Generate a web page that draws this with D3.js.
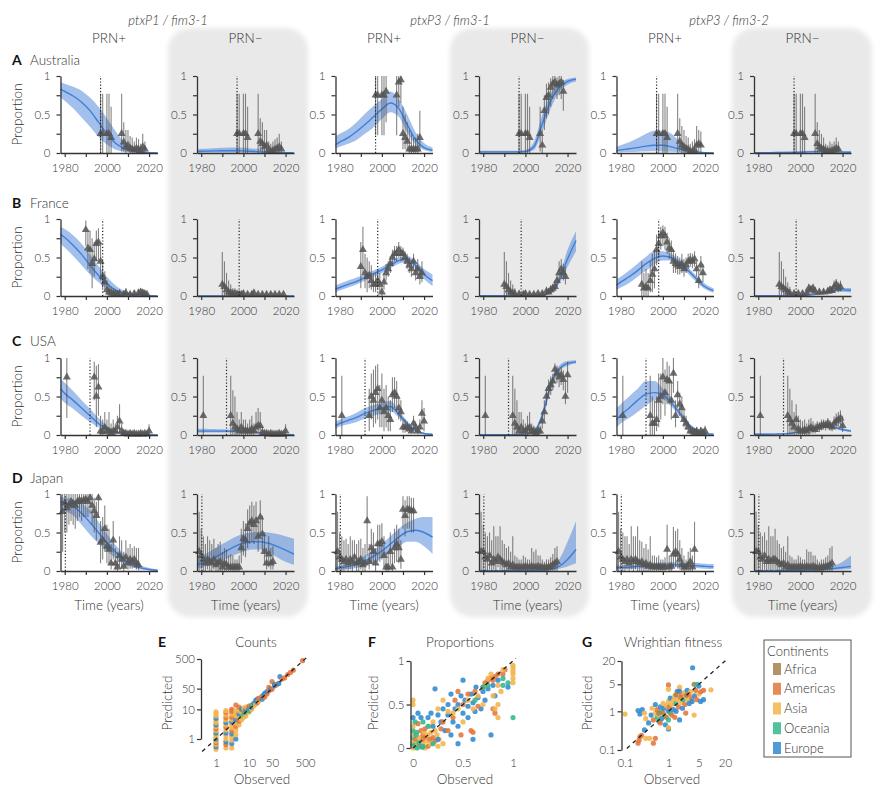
<!DOCTYPE html>
<html><head><meta charset="utf-8">
<script src="https://cdn.jsdelivr.net/npm/d3@7"></script>
<style>
body{margin:0;background:#fff;}
svg{display:block;font-family:"Lato","Open Sans",sans-serif;font-weight:300;}
</style></head><body>
<svg id="chart" width="883" height="790"></svg>
<script>
// ---------------- DATA ----------------
const countries = ["Australia","France","USA","Japan"];
const rowLetters = ["A","B","C","D"];
const vaccineYears = [1997, 1998, 1992, 1980.3];
const groupHeaders = ["ptxP1 / fim3-1","ptxP3 / fim3-1","ptxP3 / fim3-2"];
const prnLabels = ["PRN+","PRN\u2212","PRN+","PRN\u2212","PRN+","PRN\u2212"];
const fitYears = [1978,1980,1984,1988,1992,1996,2000,2004,2008,2012,2016,2020,2024];
const xTickYears = [1980,1990,2000,2010,2020];
const xLabelYears = [1980,2000,2020];
const yTicks = [0,0.25,0.5,0.75,1];
const yLabelTicks = [0,0.5,1];

const ausMean = [
 [0.83,0.80,0.74,0.66,0.55,0.40,0.25,0.13,0.06,0.025,0.01,0.004,0.002],
 [0.02,0.022,0.025,0.028,0.03,0.03,0.028,0.022,0.015,0.009,0.005,0.003,0.002],
 [0.11,0.14,0.20,0.28,0.37,0.47,0.57,0.65,0.58,0.37,0.17,0.07,0.035],
 [0.015,0.015,0.015,0.015,0.015,0.015,0.02,0.08,0.38,0.68,0.85,0.93,0.96],
 [0.03,0.04,0.055,0.07,0.09,0.10,0.10,0.08,0.05,0.025,0.01,0.004,0.002],
 [0.005,0.005,0.005,0.006,0.007,0.008,0.01,0.014,0.018,0.02,0.017,0.012,0.01]];
const ausLo = [
 [0.72,0.68,0.58,0.46,0.34,0.21,0.11,0.045,0.017,0.006,0.002,0.001,0],
 [0.003,0.004,0.005,0.006,0.007,0.007,0.006,0.004,0.002,0.001,0,0,0],
 [0.06,0.08,0.12,0.17,0.25,0.33,0.44,0.53,0.47,0.27,0.11,0.04,0.015],
 [0.005,0.005,0.005,0.005,0.005,0.005,0.008,0.04,0.28,0.58,0.79,0.89,0.93],
 [0.008,0.01,0.013,0.017,0.02,0.022,0.02,0.015,0.008,0.003,0.001,0,0],
 [0.001,0.001,0.001,0.001,0.002,0.002,0.003,0.005,0.007,0.008,0.006,0.004,0.003]];
const ausHi = [
 [0.92,0.90,0.86,0.81,0.72,0.60,0.45,0.29,0.15,0.07,0.03,0.012,0.006],
 [0.05,0.055,0.06,0.065,0.068,0.07,0.068,0.06,0.048,0.035,0.022,0.013,0.008],
 [0.22,0.25,0.31,0.40,0.51,0.61,0.70,0.80,0.70,0.50,0.27,0.13,0.07],
 [0.03,0.03,0.03,0.03,0.03,0.03,0.04,0.14,0.5,0.77,0.9,0.96,0.98],
 [0.08,0.10,0.14,0.19,0.25,0.29,0.29,0.25,0.15,0.07,0.03,0.012,0.006],
 [0.012,0.012,0.013,0.014,0.016,0.018,0.022,0.028,0.034,0.036,0.032,0.026,0.022]];
const ausObs = [
 [[1997,0.25,0,0.77],[1998,0.25,0,0.77],[2000,0.25,0,0.77],[2001,0.25,0,0.77],[2002,0.2,0,0.6],[2007,0.25,0.02,0.77],[2008,0.14,0.02,0.4],[2009,0.08,0,0.3],[2010,0.1,0.02,0.3],[2011,0.06,0,0.22],[2012,0.05,0,0.2],[2013,0.04,0,0.15],[2014,0.06,0,0.2],[2015,0.05,0,0.18],[2016,0.03,0,0.12],[2017,0.08,0,0.25],[2018,0.05,0,0.15]],
 [[1997,0.25,0,0.77],[1998,0.25,0,0.77],[2000,0.25,0,0.77],[2001,0.25,0,0.77],[2002,0.2,0,0.6],[2007,0.25,0,0.77],[2008,0.15,0.02,0.45],[2009,0.12,0,0.4],[2010,0.08,0,0.3],[2011,0.1,0,0.3],[2012,0.04,0,0.15],[2013,0.02,0,0.12],[2014,0.03,0,0.15],[2015,0.05,0,0.18],[2016,0.06,0,0.2],[2017,0.08,0,0.25],[2018,0.05,0,0.15]],
 [[1997,0.75,0.23,1],[1998,0.75,0.23,1],[2000,0.75,0.23,1],[2001,0.75,0.23,1],[2002,0.8,0.4,1],[2007,0.75,0.23,1],[2008,0.92,0.6,1],[2009,0.95,0.65,1],[2010,0.25,0.05,0.6],[2011,0.2,0.05,0.5],[2012,0.15,0.03,0.4],[2013,0.05,0,0.3],[2014,0.05,0,0.25],[2015,0.05,0,0.2],[2016,0.05,0,0.2],[2017,0.05,0,0.25],[2018,0.2,0.02,0.55]],
 [[1997,0.25,0,0.77],[1998,0.25,0,0.77],[2000,0.25,0,0.77],[2001,0.25,0,0.77],[2002,0.2,0,0.6],[2007,0.25,0.02,0.6],[2008,0.1,0,0.3],[2009,0.55,0.3,0.75],[2010,0.72,0.45,0.9],[2011,0.75,0.5,0.92],[2012,0.85,0.6,0.97],[2013,0.9,0.7,1],[2014,0.92,0.75,1],[2015,0.88,0.7,0.98],[2016,0.9,0.75,1],[2017,0.92,0.7,1],[2018,0.8,0.55,0.95]],
 [[1997,0.25,0,0.77],[1998,0.25,0,0.77],[2000,0.25,0,0.77],[2001,0.25,0,0.77],[2002,0.2,0,0.6],[2007,0.25,0,0.77],[2008,0.15,0.02,0.45],[2009,0.1,0,0.35],[2010,0.08,0,0.3],[2011,0.06,0,0.22],[2012,0.05,0,0.2],[2013,0.02,0,0.12],[2014,0.02,0,0.15],[2015,0.04,0,0.18],[2016,0.1,0,0.35],[2017,0.12,0.02,0.3],[2018,0.1,0,0.28]],
 [[1997,0.25,0,0.77],[1998,0.25,0,0.77],[2000,0.25,0,0.77],[2001,0.25,0,0.77],[2002,0.2,0,0.6],[2007,0.25,0,0.77],[2008,0.12,0,0.4],[2009,0.08,0,0.3],[2010,0.06,0,0.25],[2011,0.05,0,0.2],[2012,0.03,0,0.12],[2013,0.02,0,0.1],[2014,0.02,0,0.15],[2015,0.03,0,0.12],[2016,0.04,0,0.15],[2017,0.06,0,0.2],[2018,0.05,0,0.15]]];

const fraMean = [
 [0.80,0.76,0.66,0.54,0.40,0.27,0.16,0.08,0.04,0.02,0.008,0.003,0.001],
 [0.002,0.002,0.002,0.002,0.002,0.002,0.002,0.002,0.002,0.002,0.002,0.002,0.002],
 [0.09,0.11,0.15,0.19,0.24,0.29,0.34,0.40,0.46,0.48,0.40,0.28,0.20],
 [0.003,0.003,0.003,0.003,0.003,0.003,0.003,0.004,0.01,0.05,0.2,0.48,0.72],
 [0.14,0.18,0.25,0.33,0.42,0.49,0.52,0.50,0.43,0.33,0.22,0.12,0.07],
 [0.004,0.004,0.004,0.004,0.005,0.006,0.008,0.013,0.025,0.05,0.07,0.08,0.075]];
const fraLo = [
 [0.68,0.63,0.52,0.40,0.28,0.18,0.10,0.05,0.02,0.008,0.003,0.001,0],
 [0,0,0,0,0,0,0,0,0,0,0,0,0],
 [0.05,0.07,0.11,0.15,0.20,0.25,0.30,0.36,0.42,0.44,0.35,0.22,0.13],
 [0.001,0.001,0.001,0.001,0.001,0.001,0.001,0.002,0.006,0.035,0.16,0.38,0.58],
 [0.08,0.11,0.17,0.25,0.33,0.41,0.46,0.46,0.39,0.29,0.18,0.09,0.04],
 [0.001,0.001,0.001,0.001,0.002,0.003,0.004,0.008,0.017,0.036,0.05,0.055,0.045]];
const fraHi = [
 [0.90,0.87,0.79,0.68,0.54,0.39,0.25,0.14,0.07,0.035,0.015,0.006,0.003],
 [0.006,0.006,0.006,0.006,0.006,0.006,0.006,0.006,0.006,0.006,0.006,0.006,0.006],
 [0.14,0.16,0.20,0.24,0.28,0.33,0.38,0.44,0.50,0.52,0.45,0.35,0.28],
 [0.008,0.008,0.008,0.008,0.008,0.008,0.008,0.009,0.018,0.07,0.26,0.6,0.84],
 [0.22,0.25,0.33,0.42,0.51,0.58,0.58,0.55,0.47,0.37,0.26,0.16,0.10],
 [0.01,0.01,0.01,0.01,0.011,0.012,0.014,0.02,0.036,0.066,0.092,0.105,0.105]];
const fraObs = [
 [[1990,0.86,0.65,0.98],[1991,0.62,0.35,0.85],[1992,0.6,0.3,0.85],[1993,0.42,0.1,0.75],[1994,0.48,0.25,0.7],[1995,0.68,0.45,0.85],[1996,0.7,0.45,0.88],[1997,0.45,0.2,0.7],[1998,0.25,0.1,0.45],[1999,0.18,0.08,0.32],[2000,0.08,0.02,0.2],[2001,0.05,0,0.15],[2002,0.04,0,0.12],[2003,0.03,0,0.1],[2004,0.03,0,0.08],[2005,0.02,0,0.07],[2006,0.03,0,0.08],[2008,0.02,0,0.06],[2009,0.04,0,0.1],[2011,0.02,0,0.06],[2013,0.03,0,0.07],[2015,0.04,0.01,0.08],[2016,0.05,0.01,0.1],[2017,0.04,0.01,0.09],[2018,0.03,0,0.07],[2019,0.02,0,0.05]],
 [[1990,0.15,0,0.57],[1991,0.12,0,0.45],[1992,0.08,0,0.3],[1993,0.05,0,0.2],[1994,0.04,0,0.15],[1995,0.03,0,0.1],[1996,0.03,0,0.1],[1997,0.02,0,0.08],[1998,0.02,0,0.06],[1999,0.02,0,0.06],[2000,0.03,0,0.07],[2002,0.02,0,0.05],[2004,0.02,0,0.05],[2005,0.04,0,0.08],[2007,0.02,0,0.05],[2009,0.02,0,0.05],[2011,0.02,0,0.05],[2013,0.02,0,0.05],[2015,0.02,0,0.05],[2017,0.02,0,0.05],[2019,0.02,0,0.05]],
 [[1990,0.38,0.1,0.7],[1991,0.6,0.3,0.9],[1992,0.3,0.1,0.55],[1993,0.25,0.05,0.5],[1994,0.27,0.1,0.45],[1995,0.2,0.08,0.4],[1996,0.15,0.05,0.3],[1997,0.15,0.05,0.3],[1998,0.2,0.08,0.35],[1999,0.15,0.05,0.3],[2000,0.05,0,0.15],[2001,0.18,0.08,0.3],[2002,0.3,0.2,0.42],[2003,0.35,0.25,0.45],[2004,0.42,0.3,0.52],[2005,0.5,0.4,0.6],[2006,0.55,0.45,0.65],[2007,0.55,0.45,0.65],[2008,0.6,0.5,0.7],[2009,0.55,0.45,0.65],[2010,0.55,0.45,0.63],[2011,0.5,0.42,0.58],[2012,0.45,0.35,0.55],[2013,0.4,0.3,0.5],[2014,0.35,0.25,0.45],[2015,0.45,0.35,0.55],[2016,0.3,0.2,0.4],[2017,0.35,0.22,0.48],[2018,0.25,0.15,0.38],[2019,0.3,0.18,0.45]],
 [[1990,0.15,0,0.57],[1991,0.12,0,0.45],[1992,0.08,0,0.3],[1993,0.05,0,0.2],[1994,0.04,0,0.15],[1995,0.03,0,0.1],[1997,0.02,0,0.08],[1999,0.02,0,0.06],[2000,0.03,0,0.07],[2002,0.02,0,0.05],[2004,0.02,0,0.05],[2006,0.03,0,0.06],[2008,0.03,0,0.07],[2010,0.06,0.02,0.12],[2011,0.05,0.02,0.1],[2012,0.08,0.03,0.14],[2013,0.1,0.05,0.16],[2014,0.12,0.06,0.2],[2015,0.2,0.12,0.3],[2016,0.3,0.18,0.45],[2017,0.35,0.22,0.48],[2018,0.3,0.2,0.42],[2019,0.25,0.15,0.38]],
 [[1990,0.15,0,0.45],[1991,0.1,0,0.3],[1992,0.12,0,0.35],[1993,0.1,0,0.3],[1994,0.2,0.05,0.45],[1995,0.28,0.05,0.55],[1996,0.35,0.1,0.6],[1997,0.6,0.4,0.8],[1998,0.68,0.5,0.85],[1999,0.78,0.6,0.9],[2000,0.82,0.65,0.92],[2001,0.78,0.6,0.9],[2002,0.7,0.55,0.82],[2003,0.62,0.48,0.75],[2004,0.6,0.45,0.72],[2005,0.45,0.3,0.6],[2006,0.42,0.3,0.55],[2007,0.4,0.28,0.52],[2008,0.38,0.28,0.5],[2009,0.42,0.3,0.55],[2010,0.35,0.25,0.48],[2011,0.4,0.3,0.5],[2012,0.45,0.35,0.55],[2013,0.47,0.38,0.56],[2014,0.45,0.36,0.55],[2015,0.48,0.38,0.58],[2016,0.35,0.25,0.45],[2017,0.2,0.1,0.32],[2018,0.4,0.28,0.52],[2019,0.3,0.18,0.42]],
 [[1990,0.15,0,0.57],[1991,0.12,0,0.45],[1992,0.1,0,0.35],[1993,0.08,0,0.25],[1994,0.05,0,0.18],[1995,0.04,0,0.12],[1997,0.03,0,0.08],[1999,0.03,0,0.07],[2001,0.03,0,0.07],[2003,0.04,0,0.08],[2004,0.1,0.04,0.16],[2005,0.08,0.03,0.14],[2006,0.1,0.04,0.16],[2007,0.06,0.02,0.12],[2009,0.05,0.02,0.1],[2011,0.05,0.02,0.1],[2013,0.06,0.02,0.11],[2014,0.08,0.03,0.13],[2015,0.07,0.03,0.12],[2016,0.12,0.06,0.2],[2017,0.15,0.08,0.22],[2018,0.1,0.05,0.18],[2019,0.12,0.06,0.2]]];

const usaMean = [
 [0.60,0.54,0.45,0.35,0.25,0.15,0.08,0.04,0.02,0.008,0.003,0.001,0.0005],
 [0.05,0.05,0.05,0.05,0.05,0.048,0.045,0.04,0.03,0.018,0.01,0.005,0.003],
 [0.12,0.15,0.19,0.23,0.28,0.32,0.35,0.37,0.27,0.15,0.06,0.02,0.01],
 [0.005,0.005,0.005,0.005,0.005,0.005,0.008,0.04,0.25,0.65,0.86,0.93,0.95],
 [0.20,0.26,0.35,0.45,0.53,0.55,0.52,0.42,0.28,0.14,0.06,0.02,0.01],
 [0.01,0.01,0.01,0.012,0.015,0.025,0.045,0.07,0.10,0.12,0.10,0.07,0.05]];
const usaLo = [
 [0.47,0.42,0.34,0.25,0.17,0.10,0.05,0.02,0.01,0.003,0.001,0,0],
 [0.03,0.03,0.032,0.033,0.034,0.034,0.032,0.028,0.02,0.011,0.005,0.002,0.001],
 [0.08,0.11,0.14,0.17,0.21,0.25,0.28,0.31,0.23,0.12,0.04,0.01,0.005],
 [0.002,0.002,0.002,0.002,0.002,0.002,0.004,0.025,0.2,0.58,0.82,0.9,0.93],
 [0.10,0.15,0.22,0.30,0.38,0.45,0.46,0.37,0.24,0.11,0.04,0.01,0.005],
 [0.005,0.005,0.005,0.007,0.009,0.017,0.035,0.058,0.087,0.105,0.085,0.055,0.035]];
const usaHi = [
 [0.73,0.68,0.57,0.45,0.34,0.22,0.12,0.06,0.03,0.012,0.005,0.002,0.001],
 [0.08,0.08,0.078,0.075,0.072,0.068,0.062,0.055,0.042,0.027,0.016,0.009,0.006],
 [0.17,0.20,0.24,0.29,0.35,0.39,0.42,0.44,0.32,0.18,0.08,0.03,0.015],
 [0.01,0.01,0.01,0.01,0.01,0.01,0.015,0.06,0.3,0.71,0.9,0.96,0.97],
 [0.35,0.40,0.50,0.60,0.70,0.70,0.60,0.48,0.32,0.17,0.08,0.03,0.015],
 [0.02,0.02,0.02,0.02,0.023,0.035,0.056,0.083,0.113,0.135,0.118,0.088,0.068]];
const usaObs = [
 [[1981,0.75,0.22,1],[1994,0.75,0.45,0.95],[1995,0.5,0.1,0.9],[1996,0.62,0.25,0.92],[1997,0.05,0,0.25],[1998,0.04,0,0.2],[1999,0.1,0.01,0.3],[2000,0.05,0,0.2],[2001,0.05,0,0.3],[2002,0.03,0,0.15],[2003,0.05,0,0.2],[2004,0.05,0,0.15],[2005,0.1,0.02,0.25],[2006,0.18,0.03,0.4],[2007,0.05,0,0.15],[2008,0.02,0,0.08],[2009,0.02,0,0.06],[2010,0.01,0,0.05],[2011,0.02,0,0.05],[2012,0.01,0,0.04],[2013,0.02,0,0.05],[2014,0.01,0,0.04],[2015,0.01,0,0.04],[2016,0.02,0,0.05],[2017,0.01,0,0.04],[2018,0.02,0,0.05],[2019,0.01,0,0.04],[2020,0.05,0,0.14]],
 [[1981,0.25,0,0.77],[1994,0.25,0,0.77],[1995,0.15,0,0.58],[1996,0.1,0,0.5],[1997,0.08,0,0.3],[1998,0.05,0,0.2],[1999,0.1,0,0.3],[2000,0.05,0,0.2],[2001,0.06,0,0.2],[2002,0.05,0,0.15],[2003,0.05,0,0.2],[2004,0.08,0,0.25],[2005,0.05,0,0.15],[2006,0.1,0.02,0.3],[2007,0.12,0.02,0.35],[2008,0.12,0.02,0.3],[2009,0.03,0,0.1],[2010,0.02,0,0.06],[2011,0.02,0,0.05],[2012,0.01,0,0.04],[2013,0.02,0,0.05],[2014,0.01,0,0.04],[2015,0.01,0,0.04],[2016,0.01,0,0.04],[2017,0.02,0,0.05],[2018,0.01,0,0.04],[2019,0.01,0,0.04],[2020,0.05,0,0.14]],
 [[1981,0.25,0,0.77],[1994,0.25,0.05,0.6],[1995,0.5,0.2,0.8],[1996,0.45,0.1,0.85],[1997,0.55,0.15,0.9],[1998,0.6,0.2,0.92],[1999,0.35,0.1,0.65],[2000,0.45,0.1,0.8],[2001,0.3,0.05,0.6],[2002,0.35,0.1,0.65],[2003,0.25,0.05,0.5],[2004,0.2,0.05,0.45],[2005,0.52,0.3,0.75],[2006,0.55,0.35,0.75],[2007,0.5,0.3,0.7],[2008,0.35,0.2,0.5],[2009,0.3,0.18,0.45],[2010,0.1,0.03,0.2],[2011,0.1,0.03,0.2],[2012,0.1,0.04,0.18],[2013,0.08,0.03,0.15],[2014,0.05,0.02,0.12],[2015,0.15,0.06,0.25],[2016,0.1,0.04,0.18],[2017,0.05,0.01,0.12],[2018,0.1,0.03,0.2],[2019,0.28,0.12,0.45],[2020,0.18,0.05,0.35]],
 [[1981,0.25,0,0.77],[1994,0.25,0,0.77],[1995,0.15,0,0.6],[1996,0.1,0,0.45],[1997,0.05,0,0.3],[1998,0.1,0,0.3],[1999,0.05,0,0.2],[2000,0.05,0,0.15],[2001,0.08,0,0.25],[2002,0.1,0,0.3],[2003,0.05,0,0.15],[2004,0.05,0,0.12],[2005,0.03,0,0.1],[2006,0.05,0,0.12],[2007,0.05,0.01,0.12],[2008,0.18,0.08,0.3],[2009,0.3,0.18,0.45],[2010,0.5,0.38,0.62],[2011,0.6,0.48,0.72],[2012,0.65,0.52,0.76],[2013,0.7,0.58,0.8],[2014,0.85,0.75,0.93],[2015,0.8,0.68,0.9],[2016,0.75,0.62,0.86],[2017,0.78,0.65,0.88],[2018,0.72,0.58,0.84],[2019,0.5,0.4,0.7],[2020,0.78,0.55,0.95]],
 [[1981,0.25,0,0.77],[1994,0.25,0,0.77],[1995,0.15,0,0.5],[1996,0.15,0,0.45],[1997,0.2,0.05,0.5],[1998,0.45,0.1,0.8],[1999,0.5,0.2,0.8],[2000,0.75,0.4,1],[2001,0.55,0.25,0.85],[2002,0.72,0.4,0.95],[2003,0.7,0.4,0.9],[2004,0.45,0.2,0.7],[2005,0.8,0.55,1],[2006,0.25,0.1,0.45],[2007,0.52,0.35,0.7],[2008,0.4,0.25,0.55],[2009,0.35,0.2,0.5],[2010,0.2,0.1,0.32],[2011,0.15,0.07,0.25],[2012,0.1,0.04,0.18],[2013,0.05,0.01,0.12],[2014,0.05,0.01,0.1],[2015,0.03,0,0.08],[2016,0.05,0.01,0.1],[2017,0.02,0,0.06],[2018,0.05,0.01,0.1],[2019,0.03,0,0.08],[2020,0.05,0,0.12]],
 [[1981,0.25,0,0.77],[1994,0.25,0,0.77],[1995,0.2,0,0.6],[1996,0.15,0,0.45],[1997,0.1,0,0.3],[1998,0.2,0,0.4],[1999,0.08,0,0.25],[2000,0.05,0,0.2],[2001,0.05,0,0.18],[2002,0.07,0,0.2],[2003,0.05,0,0.15],[2004,0.08,0,0.2],[2005,0.1,0.02,0.22],[2006,0.08,0.02,0.18],[2007,0.07,0.02,0.15],[2008,0.1,0.04,0.18],[2009,0.1,0.04,0.17],[2010,0.12,0.06,0.2],[2011,0.13,0.07,0.2],[2012,0.12,0.06,0.19],[2013,0.15,0.08,0.22],[2014,0.12,0.06,0.19],[2015,0.1,0.05,0.17],[2016,0.15,0.08,0.24],[2017,0.18,0.1,0.28],[2018,0.2,0.1,0.3],[2019,0.22,0.12,0.32],[2020,0.12,0.04,0.25]]];

const jpnMean = [
 [0.90,0.88,0.84,0.75,0.63,0.50,0.37,0.25,0.15,0.08,0.04,0.02,0.01],
 [0.08,0.10,0.14,0.20,0.26,0.32,0.36,0.38,0.38,0.36,0.32,0.27,0.22],
 [0.03,0.04,0.06,0.09,0.13,0.19,0.26,0.35,0.44,0.51,0.53,0.50,0.44],
 [0.005,0.005,0.005,0.005,0.005,0.005,0.006,0.008,0.012,0.022,0.06,0.15,0.28],
 [0.04,0.045,0.05,0.06,0.065,0.07,0.075,0.08,0.08,0.075,0.07,0.06,0.055],
 [0.005,0.005,0.006,0.007,0.008,0.009,0.01,0.012,0.016,0.022,0.032,0.045,0.06]];
const jpnLo = [
 [0.80,0.78,0.72,0.60,0.47,0.36,0.26,0.17,0.10,0.05,0.02,0.01,0.005],
 [0.03,0.05,0.07,0.11,0.16,0.21,0.25,0.28,0.28,0.24,0.18,0.12,0.08],
 [0.01,0.015,0.025,0.04,0.07,0.11,0.17,0.24,0.32,0.38,0.38,0.32,0.22],
 [0.001,0.001,0.001,0.001,0.001,0.001,0.002,0.003,0.005,0.01,0.03,0.06,0.1],
 [0.02,0.022,0.025,0.03,0.035,0.04,0.045,0.05,0.05,0.045,0.04,0.03,0.025],
 [0.001,0.001,0.001,0.002,0.002,0.003,0.003,0.004,0.006,0.01,0.015,0.02,0.025]];
const jpnHi = [
 [0.96,0.95,0.93,0.88,0.79,0.64,0.48,0.34,0.22,0.13,0.07,0.04,0.02],
 [0.18,0.20,0.25,0.32,0.38,0.44,0.48,0.50,0.51,0.50,0.48,0.45,0.42],
 [0.06,0.07,0.10,0.14,0.20,0.27,0.35,0.45,0.55,0.63,0.68,0.70,0.70],
 [0.015,0.015,0.015,0.015,0.015,0.015,0.017,0.02,0.028,0.045,0.15,0.38,0.65],
 [0.07,0.075,0.08,0.09,0.1,0.105,0.11,0.115,0.115,0.11,0.105,0.095,0.09],
 [0.012,0.012,0.013,0.014,0.016,0.018,0.02,0.024,0.032,0.045,0.07,0.12,0.2]];
const jpnObs = [
 [[1979,0.77,0.25,1],[1980,0.88,0.5,1],[1981,0.82,0.5,1],[1982,0.85,0.6,1],[1983,0.9,0.65,1],[1984,0.88,0.6,1],[1985,0.85,0.55,1],[1986,0.9,0.65,1],[1987,0.92,0.7,1],[1988,0.9,0.65,1],[1989,0.92,0.7,1],[1990,0.93,0.7,1],[1991,0.9,0.7,1],[1992,0.95,0.75,1],[1993,0.85,0.6,1],[1994,0.78,0.5,0.95],[1995,0.72,0.4,0.9],[1996,0.95,0.7,1],[1997,0.37,0.1,0.65],[1998,0.4,0.15,0.7],[1999,0.55,0.25,0.85],[2000,0.32,0.1,0.6],[2001,0.28,0.08,0.55],[2002,0.1,0.02,0.35],[2003,0.4,0.15,0.65],[2004,0.1,0.02,0.3],[2005,0.05,0,0.25],[2006,0.2,0.05,0.45],[2007,0.15,0.03,0.4],[2008,0.06,0,0.25],[2009,0.18,0.05,0.4],[2010,0.1,0.02,0.3],[2011,0.15,0.03,0.35],[2012,0.12,0.03,0.3],[2013,0.15,0.04,0.32],[2014,0.1,0.02,0.3],[2015,0.08,0.01,0.3]],
 [[1979,0.25,0,0.77],[1980,0.2,0.02,0.55],[1981,0.15,0,0.45],[1982,0.1,0,0.35],[1983,0.15,0.02,0.45],[1984,0.12,0,0.4],[1985,0.1,0,0.35],[1986,0.15,0.02,0.42],[1987,0.08,0,0.3],[1988,0.1,0,0.35],[1989,0.12,0,0.38],[1990,0.05,0,0.25],[1991,0.1,0,0.3],[1992,0.08,0,0.28],[1993,0.05,0,0.2],[1994,0.05,0,0.22],[1995,0.05,0,0.2],[1996,0.05,0,0.15],[1997,0.05,0,0.15],[1998,0.05,0,0.2],[1999,0.3,0.1,0.55],[2000,0.42,0.2,0.65],[2001,0.4,0.18,0.62],[2002,0.55,0.3,0.8],[2003,0.62,0.35,0.85],[2004,0.65,0.38,0.9],[2005,0.6,0.35,0.85],[2006,0.65,0.4,0.9],[2007,0.45,0.25,0.7],[2008,0.7,0.45,0.92],[2009,0.48,0.25,0.72],[2010,0.25,0.08,0.5],[2011,0.1,0.02,0.3],[2012,0.22,0.05,0.45],[2013,0.1,0.02,0.3],[2014,0.12,0.02,0.32]],
 [[1979,0.25,0,0.77],[1980,0.18,0.02,0.5],[1981,0.15,0,0.45],[1982,0.12,0,0.4],[1983,0.15,0.02,0.42],[1984,0.1,0,0.35],[1985,0.15,0.02,0.45],[1986,0.12,0,0.4],[1987,0.18,0.05,0.4],[1988,0.1,0,0.35],[1989,0.12,0,0.4],[1990,0.15,0.02,0.42],[1991,0.08,0,0.3],[1992,0.1,0,0.35],[1993,0.65,0.2,0.97],[1994,0.12,0.02,0.35],[1995,0.3,0.1,0.55],[1996,0.25,0.08,0.5],[1997,0.1,0,0.3],[1998,0.35,0.12,0.6],[1999,0.35,0.12,0.6],[2000,0.38,0.15,0.62],[2001,0.2,0.05,0.45],[2002,0.05,0,0.25],[2003,0.05,0,0.25],[2004,0.25,0.08,0.5],[2005,0.05,0,0.25],[2006,0.3,0.1,0.55],[2007,0.35,0.12,0.6],[2008,0.3,0.1,0.55],[2009,0.15,0.03,0.4],[2010,0.8,0.55,0.97],[2011,0.72,0.45,0.92],[2012,0.8,0.55,0.97],[2013,0.8,0.55,0.97],[2014,0.78,0.5,0.95],[2015,0.78,0.5,0.95]],
 [[1979,0.25,0,0.77],[1980,0.25,0,0.6],[1981,0.18,0,0.5],[1982,0.15,0,0.45],[1983,0.2,0.02,0.5],[1984,0.1,0,0.4],[1985,0.15,0.02,0.58],[1986,0.12,0,0.45],[1987,0.18,0.05,0.45],[1988,0.15,0.02,0.58],[1989,0.12,0,0.4],[1990,0.1,0,0.35],[1991,0.08,0,0.3],[1992,0.1,0,0.32],[1993,0.05,0,0.25],[1994,0.08,0,0.45],[1995,0.05,0,0.2],[1996,0.05,0,0.18],[1997,0.05,0,0.15],[1998,0.05,0,0.15],[1999,0.05,0,0.2],[2000,0.06,0,0.18],[2001,0.05,0,0.15],[2002,0.05,0,0.15],[2003,0.06,0,0.3],[2004,0.05,0,0.25],[2005,0.05,0,0.28],[2006,0.06,0,0.2],[2007,0.05,0,0.2],[2008,0.05,0,0.15],[2009,0.04,0,0.12],[2010,0.05,0,0.15],[2011,0.05,0,0.15],[2012,0.06,0,0.18],[2013,0.08,0,0.22],[2014,0.1,0,0.3],[2015,0.12,0,0.32]],
 [[1979,0.25,0,0.77],[1980,0.18,0.02,0.55],[1981,0.15,0,0.5],[1982,0.12,0,0.45],[1983,0.15,0.02,0.45],[1984,0.1,0,0.35],[1985,0.15,0.02,0.58],[1986,0.12,0,0.45],[1987,0.15,0.02,0.45],[1988,0.12,0,0.58],[1989,0.1,0,0.4],[1990,0.12,0,0.38],[1991,0.08,0,0.3],[1992,0.1,0,0.35],[1993,0.06,0,0.28],[1994,0.08,0,0.45],[1995,0.05,0,0.2],[1996,0.06,0,0.2],[1997,0.05,0,0.18],[1998,0.06,0,0.2],[1999,0.05,0,0.15],[2000,0.05,0,0.15],[2001,0.05,0,0.18],[2002,0.28,0.05,0.6],[2003,0.05,0,0.2],[2004,0.06,0,0.2],[2005,0.22,0.05,0.57],[2006,0.25,0.05,0.52],[2007,0.22,0.03,0.55],[2008,0.15,0.02,0.4],[2009,0.08,0,0.3],[2010,0.05,0,0.2],[2011,0.05,0,0.15],[2012,0.08,0,0.25],[2013,0.12,0,0.3],[2014,0.05,0,0.2],[2015,0.28,0.05,0.64]],
 [[1979,0.25,0,0.77],[1980,0.25,0,0.6],[1981,0.18,0,0.5],[1982,0.15,0,0.45],[1983,0.2,0.02,0.5],[1984,0.12,0,0.4],[1985,0.15,0.02,0.58],[1986,0.12,0,0.45],[1987,0.15,0.02,0.45],[1988,0.15,0.02,0.55],[1989,0.12,0,0.4],[1990,0.1,0,0.35],[1991,0.08,0,0.3],[1992,0.1,0,0.32],[1993,0.05,0,0.25],[1994,0.08,0,0.45],[1995,0.05,0,0.2],[1996,0.05,0,0.18],[1997,0.05,0,0.15],[1998,0.05,0,0.15],[1999,0.05,0,0.2],[2000,0.06,0,0.18],[2001,0.05,0,0.15],[2002,0.05,0,0.15],[2003,0.06,0,0.28],[2004,0.05,0,0.25],[2005,0.05,0,0.25],[2006,0.06,0,0.2],[2007,0.05,0,0.2],[2008,0.04,0,0.15],[2009,0.04,0,0.12],[2010,0.05,0,0.15],[2011,0.05,0,0.15],[2012,0.06,0,0.18],[2013,0.06,0,0.2],[2014,0.08,0,0.3],[2015,0.1,0,0.32]]];

// Scatter panels: [observed, predicted, continentIndex]
const continents = ["Africa","Americas","Asia","Oceania","Europe"];
const continentColors = ["#a6804a","#e2753a","#f3b44b","#33b68d","#2f8ad0"];
const countTicks = [1,10,50,500];
const propTicks = [0,0.5,1];
const fitnessTicks = [0.1,1,5,20];

const countPoints = [
 [1,0.45,2],[1,0.55,4],[1,0.65,2],[1,0.75,1],[1,0.85,2],[1,1.0,4],[1,1.2,2],[1,1.4,2],[1,1.6,4],[1,1.9,2],[1,2.2,1],[1,2.6,2],[1,3.0,4],[1,3.5,2],[1,4.2,2],[1,5.0,4],[1,6.0,2],[1,7.2,2],[1,8.3,2],
 [2,0.5,2],[2,0.65,1],[2,0.8,4],[2,1.0,2],[2,1.3,2],[2,1.6,4],[2,2.0,2],[2,2.5,1],[2,3.0,2],[2,3.6,4],[2,4.4,2],[2,5.3,1],[2,6.5,2],[2,8.0,1],[2,9.0,2],
 [3,0.5,2],[3,0.7,4],[3,0.9,2],[3,1.2,2],[3,1.5,4],[3,1.9,1],[3,2.4,2],[3,3.0,2],[3,3.8,4],[3,4.6,2],[3,5.5,1],[3,6.8,2],[3,8.5,1],[3,10,1],
 [4,1.0,4],[4,1.4,2],[4,2.0,2],[4,2.7,1],[4,3.5,2],[4,4.5,4],[4,6,2],[4,7.5,2],[4,9,2],[4,14,1],
 [5,3,2],[5,4,1],[5,5.5,2],[5,7,4],[5,9,2],[5,12,1],
 [6,4.5,2],[6,6,3],[6,8,2],[6,10,4],
 [7,5.5,2],[7,7,3],[7,9,1],[7,11,2],
 [8,6,2],[8,8,3],[8,10,4],[8,12,2],
 [10,8,2],[10,9,3],[10,11,4],[10,13,1],
 [12,10,2],[12,12,4],[12,14,3],[14,13,2],[14,16,4],
 [16,15,2],[16,20,4],[18,17,1],[18,22,4],[20,19,2],[20,24,1],[25,22,4],[25,28,1],[28,30,4],[30,26,1],[30,35,4],[35,33,1],[35,40,4],
 [40,42,1],[40,55,1],[45,48,4],[50,48,1],[50,86,1],[60,62,4],[60,70,4],[70,68,1],[87,127,4],[80,75,4],[100,105,1],[120,115,1],[150,150,1],[180,175,1],[220,210,1],[420,440,1]];

const proportionPoints = [
 [0.0,0.02,3],[0.0,0.05,3],[0.0,0.08,2],[0.0,0.12,3],[0.0,0.15,2],[0.0,0.2,3],[0.0,0.25,2],[0.0,0.35,4],[0.0,0.5,2],[0.0,0.55,2],[0.0,0.0,2],[0.02,0.03,3],[0.03,0.1,1],[0.04,0.18,3],[0.05,0.05,2],[0.05,0.28,1],[0.06,0.12,2],[0.07,0.02,1],[0.08,0.2,1],[0.08,0.08,2],[0.1,0.15,1],[0.1,0.05,2],[0.1,0.1,1],[0.11,0.18,2],[0.12,0.22,1],[0.12,0.0,2],[0.13,0.12,1],[0.14,0.08,2],[0.15,0.15,2],[0.15,0.02,1],[0.16,0.25,2],[0.17,0.1,1],[0.18,0.18,2],[0.18,0.05,2],[0.2,0.12,1],[0.2,0.3,2],[0.22,0.2,2],[0.22,0.08,1],[0.24,0.15,2],[0.25,0.02,2],[0.26,0.1,2],[0.28,0.22,1],[0.3,0.05,2],[0.02,0.3,3],[0.05,0.4,4],[0.08,0.35,4],[0.1,0.3,3],[0.04,0.0,3],[0.09,0.01,3],[0.06,0.06,3],
 [0.15,0.35,4],[0.18,0.4,4],[0.2,0.25,4],[0.22,0.68,4],[0.25,0.38,4],[0.28,0.3,4],[0.3,0.45,4],[0.32,0.2,4],[0.35,0.5,4],[0.35,0.38,4],[0.38,0.62,4],[0.4,0.3,4],[0.42,0.45,4],[0.45,0.5,4],[0.45,0.25,4],[0.48,0.6,4],[0.5,0.4,4],[0.5,0.78,4],[0.52,0.55,4],[0.55,0.35,4],[0.55,0.48,4],[0.58,0.62,4],[0.6,0.52,4],[0.62,0.42,4],[0.63,0.7,4],[0.65,0.58,4],[0.68,0.45,4],[0.7,0.65,4],[0.72,0.55,4],[0.75,0.68,4],[0.78,0.15,4],[0.8,0.72,4],[0.82,0.6,4],[0.85,0.78,4],[0.95,0.7,4],[0.45,0.05,4],[0.6,0.1,4],[0.25,0.1,4],[0.38,0.15,4],
 [0.3,0.3,1],[0.35,0.2,1],[0.4,0.35,1],[0.42,0.55,1],[0.45,0.65,1],[0.48,0.15,1],[0.5,0.5,1],[0.55,0.62,1],[0.58,0.2,1],[0.6,0.18,1],[0.62,0.65,1],[0.65,0.48,1],[0.7,0.7,1],[0.72,0.75,1],[0.75,0.78,1],[0.78,0.8,1],[0.8,0.45,1],[0.82,0.4,1],[0.82,0.82,1],[0.85,0.85,1],[0.9,0.85,1],[0.92,0.9,1],[0.8,0.78,1],
 [0.25,0.45,2],[0.3,0.55,2],[0.35,0.42,2],[0.4,0.4,2],[0.45,0.45,2],[0.5,0.3,2],[0.55,0.55,2],[0.6,0.45,2],[0.65,0.6,2],[0.7,0.5,2],[0.75,0.8,2],[0.8,0.6,2],[0.82,0.45,2],[0.85,0.5,2],[0.85,0.35,2],[0.9,0.9,2],[1.0,0.75,2],[1.0,0.8,2],[1.0,0.85,2],[1.0,0.88,2],[1.0,0.92,2],[1.0,0.95,2],[0.88,0.65,2],[0.78,0.85,2],[0.85,0.72,2],
 [0.9,0.8,3],[0.9,0.72,3],[0.95,0.75,3],[1.0,0.35,3],[0.1,0.02,3],[0.15,0.25,3],[0.2,0.05,3],[0.03,0.15,3],[0.7,0.7,3],[0.75,0.72,3],[0.62,0.55,3]];

const fitnessPoints = [
 [0.1,0.85,2],[0.2,0.15,1],[0.21,0.18,1],[0.22,0.22,1],[0.24,0.24,1],[0.28,0.33,4],[0.2,1.05,4],[0.22,0.85,4],[0.25,1.1,4],[0.28,0.9,2],[0.3,0.2,2],[0.37,0.2,2],[0.5,0.2,1],[0.45,0.15,1],[0.3,0.65,2],[0.35,0.5,4],[0.4,0.8,4],[0.42,1.2,2],[0.45,0.6,1],[0.5,1.5,4],[0.5,0.9,2],[0.55,0.7,3],[0.55,1.1,1],[0.6,0.55,3],[0.6,0.8,2],[0.65,1.3,4],[0.65,0.5,1],[0.7,1.0,3],[0.7,0.65,4],[0.75,1.6,2],[0.75,0.9,1],[0.8,0.75,3],[0.8,1.2,4],[0.85,0.45,4],[0.9,1.4,2],[0.9,0.7,1],[1.0,4.8,1],[1.0,3.7,2],[1.0,0.6,3],[1.0,0.35,4],[1.0,0.38,2],[1.0,1.0,4],[1.0,1.8,2],[1.05,1.3,1],[1.1,0.9,3],[1.1,2.2,4],[1.2,1.5,2],[1.2,0.8,1],[1.3,1.1,4],[1.3,1.9,2],[1.4,0.7,1],[1.4,2.5,2],[1.5,1.6,3],[1.5,1.0,4],[1.6,3.3,4],[1.6,2.0,2],[1.7,1.3,1],[1.8,4.2,2],[1.8,3.3,4],[1.8,0.6,4],[1.9,2.3,1],[2.0,1.7,2],[2.0,2.7,1],[2.1,1.2,4],[2.2,2.0,3],[2.3,3.0,2],[2.4,1.5,1],[2.5,2.4,2],[2.5,0.9,1],[2.7,3.5,4],[2.8,2.0,2],[3.0,2.8,1],[3.0,1.6,4],[3.2,3.2,2],[3.4,2.2,1],[3.6,13.4,4],[3.9,5.0,0],[3.9,0.8,2],[3.5,1.8,4],[4.0,2.5,4],[4.2,3.5,1],[4.6,5.0,3],[4.5,2.0,1],[5.0,2.8,2],[5.0,4.5,4],[5.5,1.8,4],[6.4,3.5,1],[6.4,2.0,4],[9.5,3.6,2],[5.5,3.2,1],[2.6,2.6,0],[1.5,2.7,0],[0.6,0.9,0]];

// ---------------- LAYOUT ----------------
const svg = d3.select("#chart");
const colX = [60.5,197,335.5,479,616.5,754];
const rowTop = [76,219,358,494];
const PW = 97, PH = 77;
const TXT = "#333";

const rowSets = [
 {mean:ausMean, lo:ausLo, hi:ausHi, obs:ausObs},
 {mean:fraMean, lo:fraLo, hi:fraHi, obs:fraObs},
 {mean:usaMean, lo:usaLo, hi:usaHi, obs:usaObs},
 {mean:jpnMean, lo:jpnLo, hi:jpnHi, obs:jpnObs}];

// shaded PRN- columns
const defs = svg.append("defs");
defs.append("filter").attr("id","soft").attr("x","-10%").attr("y","-10%").attr("width","120%").attr("height","120%")
  .append("feGaussianBlur").attr("stdDeviation",2.5);
const shadeSpans = [[168,308],[450,589],[732,872]];
svg.selectAll("rect.shade").data(shadeSpans).join("rect").attr("class","shade")
  .attr("x",d=>d[0]).attr("y",28).attr("width",d=>d[1]-d[0]).attr("height",589)
  .attr("rx",22).attr("fill","#e9e9e9").attr("filter","url(#soft)");

// headers
const groupCenters = [168, 450, 729];
svg.selectAll("text.grp").data(groupHeaders).join("text").attr("class","grp")
  .attr("x",(d,i)=>groupCenters[i]).attr("y",24.5).attr("text-anchor","middle")
  .attr("font-size",13).attr("font-style","italic").attr("fill",TXT).text(d=>d);
svg.selectAll("text.prn").data(prnLabels).join("text").attr("class","prn")
  .attr("x",(d,i)=>colX[i]+PW/2).attr("y",43).attr("text-anchor","middle")
  .attr("font-size",13.5).attr("fill",TXT).text(d=>d);

// row labels
const rowLabelY = [64.5, 207.5, 345.5, 482.5];
countries.forEach((c,ri)=>{
  svg.append("text").attr("x",12).attr("y",rowLabelY[ri]).attr("font-size",14).attr("font-weight","bold").attr("fill","#111").text(rowLetters[ri]);
  svg.append("text").attr("x",30).attr("y",rowLabelY[ri]).attr("font-size",13.5).attr("fill",TXT).text(c);
  svg.append("text").attr("transform",`translate(21.5,${rowTop[ri]+PH/2}) rotate(-90)`).attr("text-anchor","middle")
    .attr("font-size",13.5).attr("fill",TXT).text("Proportion");
});

function styleAxis(g){
  g.attr("font-family",null).attr("font-size",11.5);
  g.select(".domain").attr("stroke","#333").attr("stroke-width",1.3);
  g.selectAll(".tick line").attr("stroke","#333").attr("stroke-width",1.2);
  g.selectAll(".tick text").attr("fill",TXT);
}

function drawPanel(ri, ci){
  const R = rowSets[ri];
  const x = d3.scaleLinear().domain([1978,2024]).range([colX[ci], colX[ci]+PW]);
  const y = d3.scaleLinear().domain([0,1]).range([rowTop[ri]+PH, rowTop[ri]]);
  const g = svg.append("g");
  const fit = fitYears.map((yr,i)=>({yr, m:R.mean[ci][i], lo:R.lo[ci][i], hi:R.hi[ci][i]}));
  g.append("path").datum(fit)
    .attr("d", d3.area().x(d=>x(d.yr)).y0(d=>y(d.lo)).y1(d=>y(d.hi)).curve(d3.curveMonotoneX))
    .attr("fill","#4f84d8").attr("fill-opacity",0.52);
  g.append("path").datum(fit)
    .attr("d", d3.line().x(d=>x(d.yr)).y(d=>y(d.m)).curve(d3.curveMonotoneX))
    .attr("fill","none").attr("stroke","#3f7fd9").attr("stroke-width",1.4);
  const obs = R.obs[ci];
  g.selectAll("line.eb").data(obs).join("line").attr("class","eb")
    .attr("x1",d=>x(d[0])).attr("x2",d=>x(d[0])).attr("y1",d=>y(d[2])).attr("y2",d=>y(d[3]))
    .attr("stroke","#505050").attr("stroke-opacity",0.7).attr("stroke-width",1.1);
  g.selectAll("path.tri").data(obs).join("path").attr("class","tri")
    .attr("d", d3.symbol(d3.symbolTriangle, 28))
    .attr("transform", d=>`translate(${x(d[0])},${y(d[1])})`)
    .attr("fill","#555").attr("fill-opacity",0.85);
  const vx = x(vaccineYears[ri]);
  g.append("line").attr("x1",vx).attr("x2",vx).attr("y1",y(0)).attr("y2",y(1))
    .attr("stroke","#222").attr("stroke-width",1.2).attr("stroke-dasharray","1.2,2");
  const ya = g.append("g").attr("transform",`translate(${colX[ci]},0)`)
    .call(d3.axisLeft(y).tickValues(yTicks).tickFormat(d=>yLabelTicks.includes(d)?d3.format("~g")(d):"")
      .tickSize(4).tickPadding(6).tickSizeOuter(0));
  styleAxis(ya);
  const xa = g.append("g").attr("transform",`translate(0,${rowTop[ri]+PH})`)
    .call(d3.axisBottom(x).tickValues(xTickYears).tickFormat(d=>xLabelYears.includes(d)?String(d):"")
      .tickSize(4).tickPadding(7).tickSizeOuter(0));
  styleAxis(xa);
  if(ri===3){
    g.append("text").attr("x",colX[ci]+PW/2).attr("y",610).attr("text-anchor","middle")
      .attr("font-size",13.5).attr("fill",TXT).text("Time (years)");
  }
}
rowSets.forEach((R,ri)=>R.mean.forEach((_,ci)=>drawPanel(ri,ci)));

// ---------------- SCATTER PANELS ----------------
function scatter(cfg){
  const g = svg.append("g");
  g.append("text").attr("x",cfg.letterX).attr("y",647).attr("font-size",14).attr("font-weight","bold").attr("fill","#111").text(cfg.letter);
  g.append("text").attr("x",cfg.titleX).attr("y",646.5).attr("text-anchor","middle").attr("font-size",13.5).attr("fill",TXT).text(cfg.title);
  g.selectAll("circle").data(cfg.points).join("circle")
    .attr("cx",d=>cfg.x(d[0])).attr("cy",d=>cfg.y(d[1])).attr("r",2.6)
    .attr("fill",d=>continentColors[d[2]]).attr("fill-opacity",0.88);
  g.append("line").attr("x1",cfg.x(cfg.diag[0])).attr("y1",cfg.y(cfg.diag[0]))
    .attr("x2",cfg.x(cfg.diag[1])).attr("y2",cfg.y(cfg.diag[1]))
    .attr("stroke","#222").attr("stroke-width",1.3).attr("stroke-dasharray","4,4");
  const ya = g.append("g").attr("transform",`translate(${cfg.axisX},0)`)
    .call(d3.axisLeft(cfg.y).tickValues(cfg.ticks).tickFormat(d3.format("~g")).tickSize(4).tickPadding(2).tickSizeOuter(0));
  styleAxis(ya);
  const xa = g.append("g").attr("transform",`translate(0,753)`)
    .call(d3.axisBottom(cfg.x).tickValues(cfg.ticks).tickFormat(d3.format("~g")).tickSize(0).tickPadding(5.5));
  styleAxis(xa);
  xa.select(".domain").remove();
  g.append("text").attr("x",cfg.obsX).attr("y",784).attr("text-anchor","middle").attr("font-size",13.5).attr("fill",TXT).text("Observed");
  g.append("text").attr("transform",`translate(${cfg.predX},703) rotate(-90)`).attr("text-anchor","middle").attr("font-size",13.5).attr("fill",TXT).text("Predicted");
}

scatter({letter:"E", letterX:158, title:"Counts", titleX:256, points:countPoints,
  x:d3.scaleLog().domain([1,500]).range([216,305]), y:d3.scaleLog().domain([1,500]).range([739,659]),
  diag:[0.38,610], ticks:countTicks, axisX:201, obsX:262, predX:171.5});
scatter({letter:"F", letterX:368, title:"Proportions", titleX:460, points:proportionPoints,
  x:d3.scaleLinear().domain([0,1]).range([413,513]), y:d3.scaleLinear().domain([0,1]).range([748,661]),
  diag:[0,1.03], ticks:propTicks, axisX:410.5, obsX:465, predX:377.5});
scatter({letter:"G", letterX:582, title:"Wrightian fitness", titleX:673, points:fitnessPoints,
  x:d3.scaleLog().domain([0.1,20]).range([625,725]), y:d3.scaleLog().domain([0.1,20]).range([750,661]),
  diag:[0.11,23], ticks:fitnessTicks, axisX:621.5, obsX:672, predX:591.5});

// legend
const lg = svg.append("g");
lg.append("rect").attr("x",764).attr("y",640).attr("width",87).attr("height",117).attr("fill","#fff").attr("stroke","#555").attr("stroke-width",1);
lg.append("text").attr("x",767).attr("y",656).attr("font-size",13).attr("fill",TXT).text("Continents");
const legY = d3.scalePoint().domain(continents).range([669,748]);
lg.selectAll("rect.sw").data(continents).join("rect").attr("class","sw")
  .attr("x",773).attr("y",d=>legY(d)-6).attr("width",8).attr("height",12)
  .attr("fill",(d,i)=>continentColors[i]).attr("fill-opacity",0.85);
lg.selectAll("text.lt").data(continents).join("text").attr("class","lt")
  .attr("x",784).attr("y",d=>legY(d)+4.5).attr("font-size",13).attr("fill",TXT).text(d=>d);
</script>
</body></html>
